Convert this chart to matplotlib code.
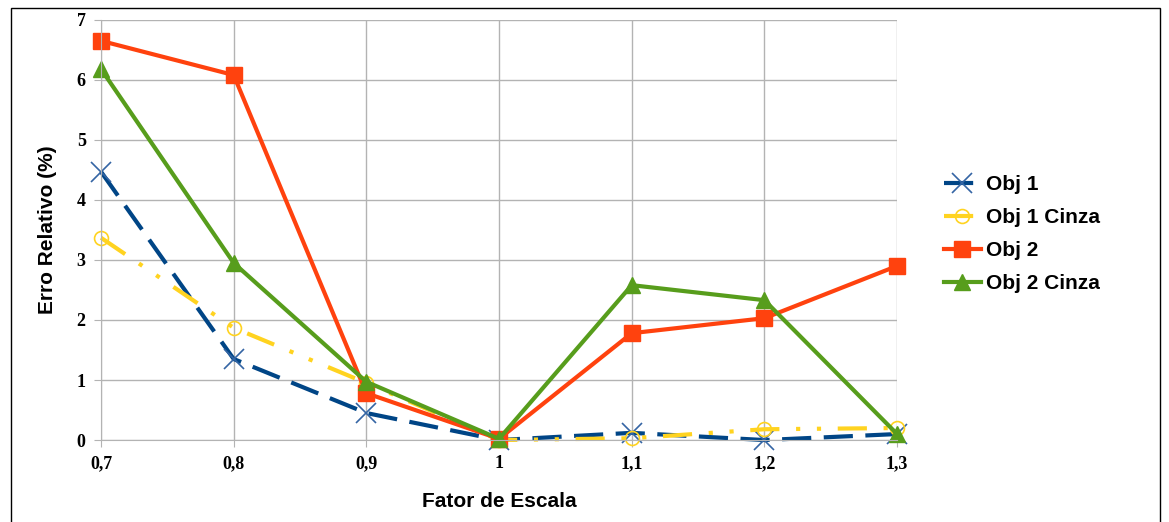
import matplotlib.pyplot as plt
from matplotlib.patches import Rectangle

escala = [0.7, 0.8, 0.9, 1.0, 1.1, 1.2, 1.3]
tick_labels = ['0,7', '0,8', '0,9', '1', '1,1', '1,2', '1,3']

obj1 = [4.47, 1.35, 0.45, 0.0, 0.12, 0.0, 0.1]
obj1_cinza = [3.37, 1.87, 0.95, 0.0, 0.03, 0.18, 0.2]
obj2 = [6.65, 6.08, 0.78, 0.02, 1.78, 2.03, 2.9]
obj2_cinza = [6.18, 2.95, 0.97, 0.02, 2.58, 2.33, 0.1]

fig = plt.figure(figsize=(11.69, 5.22), dpi=100)
ax = fig.add_axes([0.0864, 0.157, 0.681, 0.805])

ax.plot(escala, obj1, color='#004586', lw=3, dashes=(7, 3), marker='x',
        ms=14, mew=1.2, mec='#3465a4', label='Obj 1', clip_on=False)
ax.plot(escala, obj1_cinza, color='#ffd320', lw=3, dashes=(7, 4, 1, 4, 1, 4),
        marker='o', ms=10, mfc='none', mec='#ffd320', mew=1.2, label='Obj 1 Cinza',
        clip_on=False)
ax.plot(escala, obj2, color='#ff420e', lw=3, marker='s', ms=11, label='Obj 2',
        clip_on=False)
ax.plot(escala, obj2_cinza, color='#579d1c', lw=3, marker='^', ms=11, label='Obj 2 Cinza',
        clip_on=False)

ax.set_xlim(0.7, 1.3)
ax.set_ylim(0, 7)
ax.set_xticks(escala)
ax.set_xticklabels(tick_labels)
ax.set_yticks(range(8))
ax.grid(True, color='#b3b3b3', lw=1)
ax.set_axisbelow(True)
for s in ['top', 'right']:
    ax.spines[s].set_visible(False)
for s in ['left', 'bottom']:
    ax.spines[s].set_color('#b3b3b3')
ax.tick_params(length=5, color='#b3b3b3', pad=6)
for lab in ax.get_xticklabels() + ax.get_yticklabels():
    lab.set_fontfamily('Liberation Serif')
    lab.set_fontweight('bold')
    lab.set_fontsize(13)

ax.set_xlabel('Fator de Escala', fontsize=15, fontweight='bold',
              family='Liberation Sans', labelpad=14)
ax.set_ylabel('Erro Relativo (%)', fontsize=15, fontweight='bold',
              family='Liberation Sans', labelpad=14)

ax.legend(loc='center left', bbox_to_anchor=(1.035, 0.49), frameon=False,
          prop={'family': 'Liberation Sans', 'weight': 'bold', 'size': 15},
          handlelength=1.8, handletextpad=0.25, labelspacing=0.68)

fig.patches.append(Rectangle((0.009, -0.01), 0.983, 0.995, transform=fig.transFigure,
                             fill=False, ec='black', lw=1))

fig.savefig('out.png', dpi=100)
